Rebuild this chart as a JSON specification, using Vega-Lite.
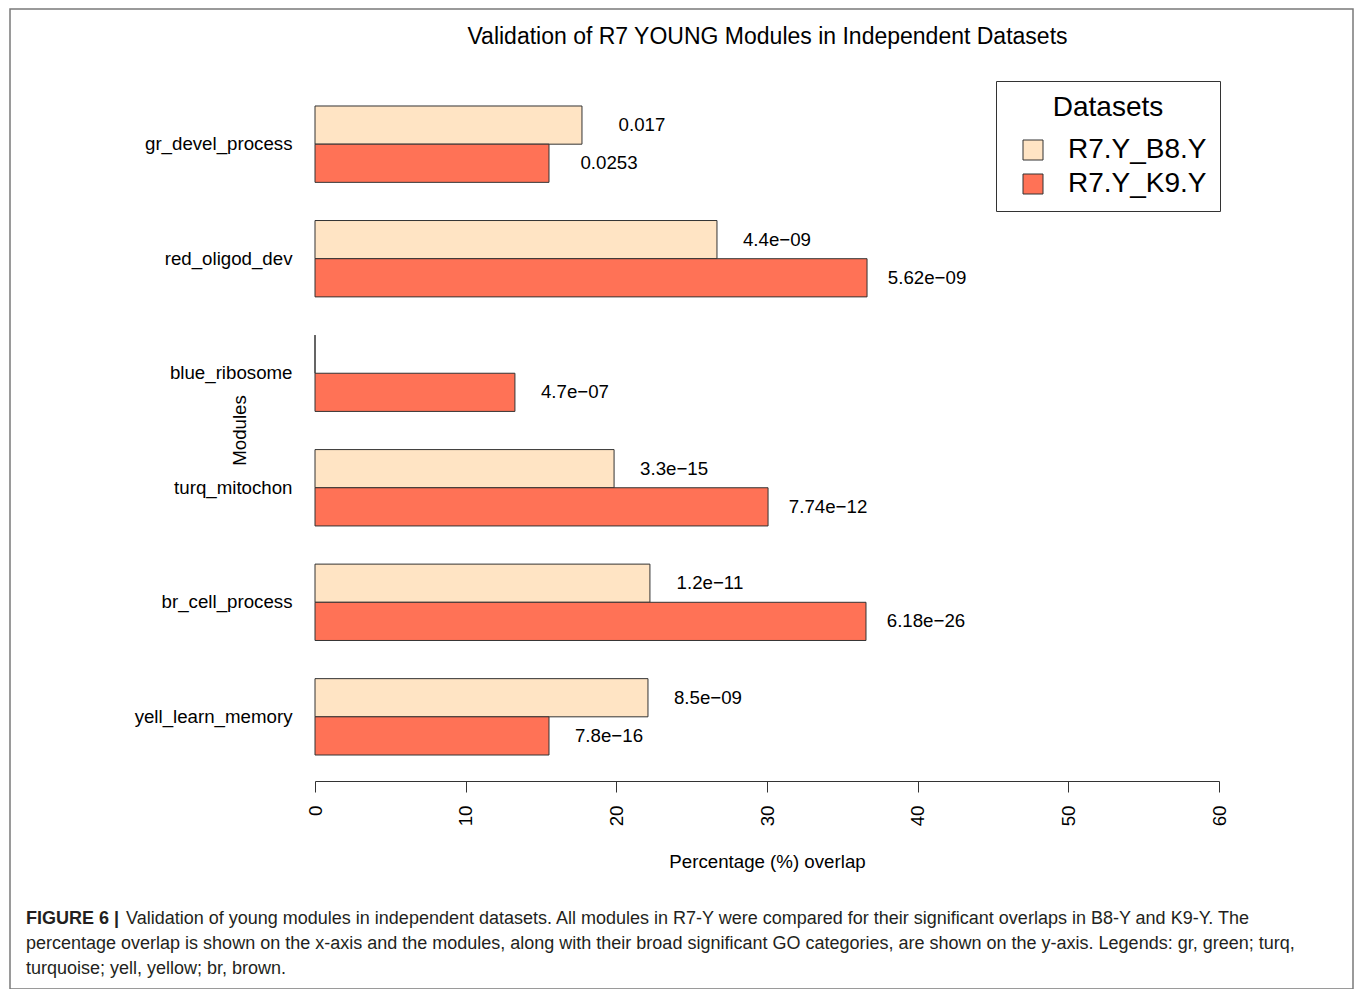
{
  "$schema": "https://vega.github.io/schema/vega-lite/v6.json",
  "width": 1343,
  "height": 980,
  "autosize": "none",
  "padding": {"left": 10, "top": 9, "right": 2, "bottom": 0},
  "background": "white",
  "config": {
    "view": {"stroke": "#7a7a7a", "strokeWidth": 1.5},
    "font": "Liberation Sans"
  },
  "title": {
    "text": "FIGURE 6 |",
    "subtitle": [
      "\u200b\u00a0\u00a0\u00a0\u00a0\u00a0\u00a0\u00a0\u00a0\u00a0\u00a0\u00a0\u00a0\u00a0\u00a0\u00a0\u00a0\u00a0\u00a0\u00a0\u00a0Validation of young modules in independent datasets. All modules in R7-Y were compared for their significant overlaps in B8-Y and K9-Y. The",
      "percentage overlap is shown on the x-axis and the modules, along with their broad significant GO categories, are shown on the y-axis. Legends: gr, green; turq,",
      "turquoise; yell, yellow; br, brown."
    ],
    "orient": "bottom",
    "anchor": "start",
    "frame": "group",
    "offset": -79.5,
    "dx": 16,
    "fontSize": 18,
    "fontWeight": "bold",
    "font": "Liberation Sans",
    "color": "#231f20",
    "lineHeight": 25,
    "subtitleFontSize": 18,
    "subtitleFontWeight": "normal",
    "subtitleFont": "Liberation Sans",
    "subtitleColor": "#231f20",
    "subtitleLineHeight": 25,
    "subtitlePadding": -18
  },
  "data": {
    "values": [
      {"module": "gr_devel_process", "dataset": "R7.Y_B8.Y", "value": 17.72, "label": "0.017"},
      {"module": "gr_devel_process", "dataset": "R7.Y_K9.Y", "value": 15.53, "label": "0.0253"},
      {"module": "red_oligod_dev", "dataset": "R7.Y_B8.Y", "value": 26.68, "label": "4.4e−09"},
      {"module": "red_oligod_dev", "dataset": "R7.Y_K9.Y", "value": 36.64, "label": "5.62e−09"},
      {"module": "blue_ribosome", "dataset": "R7.Y_B8.Y", "value": 0, "label": ""},
      {"module": "blue_ribosome", "dataset": "R7.Y_K9.Y", "value": 13.27, "label": "4.7e−07"},
      {"module": "turq_mitochon", "dataset": "R7.Y_B8.Y", "value": 19.85, "label": "3.3e−15"},
      {"module": "turq_mitochon", "dataset": "R7.Y_K9.Y", "value": 30.07, "label": "7.74e−12"},
      {"module": "br_cell_process", "dataset": "R7.Y_B8.Y", "value": 22.23, "label": "1.2e−11"},
      {"module": "br_cell_process", "dataset": "R7.Y_K9.Y", "value": 36.57, "label": "6.18e−26"},
      {"module": "yell_learn_memory", "dataset": "R7.Y_B8.Y", "value": 22.1, "label": "8.5e−09"},
      {"module": "yell_learn_memory", "dataset": "R7.Y_K9.Y", "value": 15.53, "label": "7.8e−16"}
    ]
  },
  "layer": [
    {
      "mark": {"type": "bar", "stroke": "#333333", "strokeWidth": 1},
      "encoding": {
        "y": {
          "field": "module",
          "type": "nominal",
          "sort": ["gr_devel_process", "red_oligod_dev", "blue_ribosome", "turq_mitochon", "br_cell_process", "yell_learn_memory"],
          "scale": {"range": [71, 772], "paddingInner": 0.3333, "paddingOuter": 0.227},
          "axis": {
            "orient": "left",
            "offset": -305,
            "domain": false,
            "ticks": false,
            "grid": false,
            "labelPadding": 23,
            "labelFontSize": 18.7,
            "labelColor": "black",
            "labelFont": "Liberation Sans",
            "title": "Modules",
            "titleFontSize": 18.7,
            "titleFontWeight": "normal",
            "titleFont": "Liberation Sans",
            "titleColor": "black",
            "titleAngle": -90,
            "titleAlign": "center",
            "titleBaseline": "alphabetic",
            "titleX": -70,
            "titleY": 421
          }
        },
        "yOffset": {"field": "dataset", "type": "nominal", "sort": ["R7.Y_B8.Y", "R7.Y_K9.Y"]},
        "x": {
          "field": "value",
          "type": "quantitative",
          "scale": {"domain": [0, 60], "range": [305, 1209], "nice": false, "zero": true},
          "axis": {
            "orient": "bottom",
            "offset": -208,
            "values": [0, 10, 20, 30, 40, 50, 60],
            "grid": false,
            "domainColor": "#333333",
            "domainWidth": 1,
            "tickColor": "#333333",
            "tickSize": 11,
            "tickWidth": 1,
            "labelAngle": -90,
            "labelPadding": 13,
            "labelFontSize": 18.7,
            "labelColor": "black",
            "labelFont": "Liberation Sans",
            "title": "Percentage (%) overlap",
            "titleFontSize": 18.7,
            "titleFontWeight": "normal",
            "titleFont": "Liberation Sans",
            "titleColor": "black",
            "titleBaseline": "alphabetic",
            "titleY": 86
          }
        },
        "color": {
          "field": "dataset",
          "type": "nominal",
          "scale": {"domain": ["R7.Y_B8.Y", "R7.Y_K9.Y"], "range": ["#FFE4C4", "#FF7256"]},
          "legend": {
            "orient": "none",
            "legendX": 986,
            "legendY": 72,
            "title": "Datasets",
            "titleFontSize": 28,
            "titleFontWeight": "normal",
            "titleFont": "Liberation Sans",
            "titleColor": "black",
            "titleAnchor": "middle",
            "titlePadding": 14,
            "symbolType": "square",
            "symbolSize": 400,
            "symbolStrokeColor": "#333333",
            "symbolStrokeWidth": 1,
            "symbolOffset": 10,
            "labelFontSize": 28,
            "labelFont": "Liberation Sans",
            "labelColor": "black",
            "labelOffset": 21,
            "rowPadding": 6,
            "padding": 13,
            "strokeColor": "#333333"
          }
        }
      }
    },
    {
      "mark": {"type": "text", "dx": 60, "align": "center", "baseline": "middle", "fontSize": 18.7, "font": "Liberation Sans", "color": "black"},
      "encoding": {
        "y": {
          "field": "module",
          "type": "nominal",
          "sort": ["gr_devel_process", "red_oligod_dev", "blue_ribosome", "turq_mitochon", "br_cell_process", "yell_learn_memory"]
        },
        "yOffset": {"field": "dataset", "type": "nominal", "sort": ["R7.Y_B8.Y", "R7.Y_K9.Y"]},
        "x": {
          "field": "value",
          "type": "quantitative",
          "scale": {"domain": [0, 60], "range": [305, 1209], "nice": false, "zero": true},
          "axis": {
            "orient": "top",
            "domain": false,
            "ticks": false,
            "labels": false,
            "grid": false,
            "title": "Validation of R7 YOUNG Modules in Independent Datasets",
            "titleFontSize": 23,
            "titleFontWeight": "normal",
            "titleFont": "Liberation Sans",
            "titleColor": "black",
            "titleBaseline": "alphabetic",
            "titleY": 34
          }
        },
        "text": {"field": "label", "type": "nominal"}
      }
    }
  ],
  "resolve": {"scale": {"x": "independent"}, "axis": {"x": "independent"}}
}
